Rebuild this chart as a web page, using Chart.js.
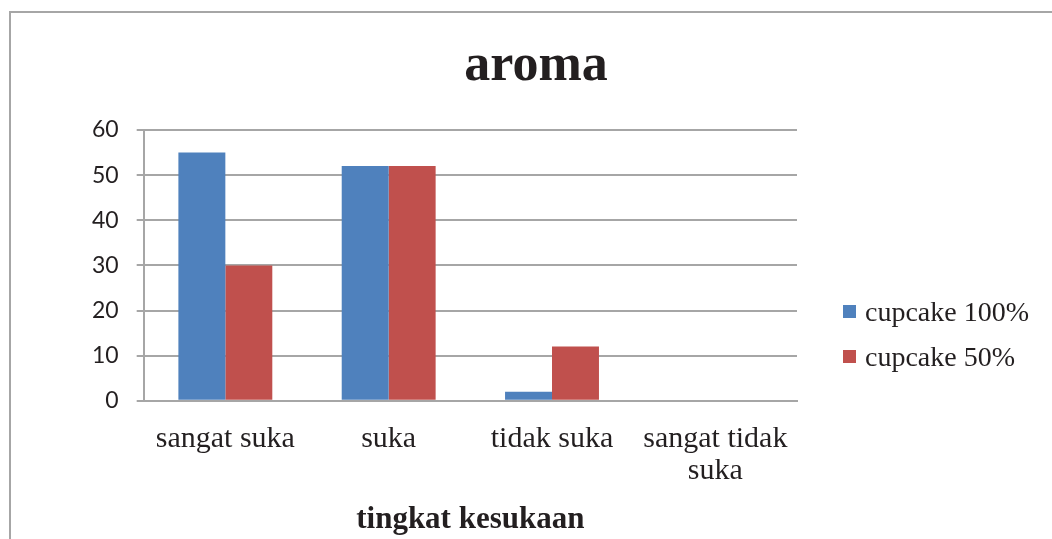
<!DOCTYPE html>
<html>
<head>
<meta charset="utf-8">
<script src="https://cdn.jsdelivr.net/npm/chart.js@4.4.1/dist/chart.umd.min.js"></script>
<style>
    html, body { margin: 0; padding: 0; background: #fff; }
    #wrap { position: relative; width: 1052px; height: 539px; overflow: hidden; }
    #frame { position: absolute; left: 9px; top: 11px; width: 1100px; height: 600px;
             border-left: 2px solid #a6a6a6; border-top: 2px solid #a6a6a6; }
    #title { position: absolute; left: 436px; width: 200px; top: 37px; margin: 0; text-align: center;
             font-family: "Liberation Serif", serif; font-weight: bold; font-size: 52px; line-height: 52px; color: #231f20; }
    #legend { position: absolute; left: 843px; top: 289px; margin: 0; padding: 0; list-style: none;
              font-family: "Liberation Serif", serif; font-size: 28px; color: #231f20; }
    #legend li { display: flex; align-items: center; height: 45px; }
    #legend span.box { display: inline-block; width: 13px; height: 13px; margin-right: 9px; }
</style>
</head>
<body>
<div id="wrap">
    <div id="frame"></div>
    <canvas id="aroma" width="1052" height="539"></canvas>
    <h1 id="title">aroma</h1>
    <ul id="legend"></ul>
</div>
<script>
const categories = ['sangat suka', 'suka', 'tidak suka', ['sangat tidak', 'suka']];
const cupcake100 = [55, 52, 2, 0];
const cupcake50 = [30, 52, 12, 0];
const yTicks = [0, 10, 20, 30, 40, 50, 60];

const gridColor = '#a6a6a6';
const textColor = '#231f20';

const chart = new Chart(document.getElementById('aroma'), {
    type: 'bar',
    data: {
        labels: categories,
        datasets: [
            { label: 'cupcake 100%', data: cupcake100, backgroundColor: '#4f81bd' },
            { label: 'cupcake 50%', data: cupcake50, backgroundColor: '#c0504d' }
        ]
    },
    options: {
        responsive: false,
        animation: false,
        devicePixelRatio: 1,
        layout: { padding: { left: 74, right: 255, top: 130, bottom: 0 } },
        datasets: { bar: { categoryPercentage: 0.575, barPercentage: 1 } },
        plugins: {
            legend: { display: false },
            tooltip: { enabled: false }
        },
        scales: {
            x: {
                grid: { display: false, tickLength: 7 },
                border: { color: gridColor, width: 2 },
                ticks: {
                    color: textColor,
                    maxRotation: 0,
                    autoSkip: false,
                    padding: 15,
                    font: { family: 'Liberation Serif', size: 30, lineHeight: 1.067 }
                },
                title: {
                    display: true,
                    text: 'tingkat kesukaan',
                    color: textColor,
                    font: { family: 'Liberation Serif', size: 31, weight: 'bold' },
                    padding: { top: 0, bottom: 0 }
                }
            },
            y: {
                min: 0,
                max: 60,
                afterBuildTicks: (scale) => { scale.ticks = yTicks.map(v => ({ value: v })); },
                grid: { color: gridColor, lineWidth: 2, tickLength: 7 },
                border: { color: gridColor, width: 2 },
                ticks: {
                    color: textColor,
                    padding: 18,
                    font: { family: 'Lato', size: 23 }
                }
            }
        }
    }
});

// legend as html, built from the datasets
const legendEl = document.getElementById('legend');
chart.data.datasets.forEach(ds => {
    const li = document.createElement('li');
    const box = document.createElement('span');
    box.className = 'box';
    box.style.background = ds.backgroundColor;
    li.appendChild(box);
    li.appendChild(document.createTextNode(ds.label));
    legendEl.appendChild(li);
});
</script>
</body>
</html>
